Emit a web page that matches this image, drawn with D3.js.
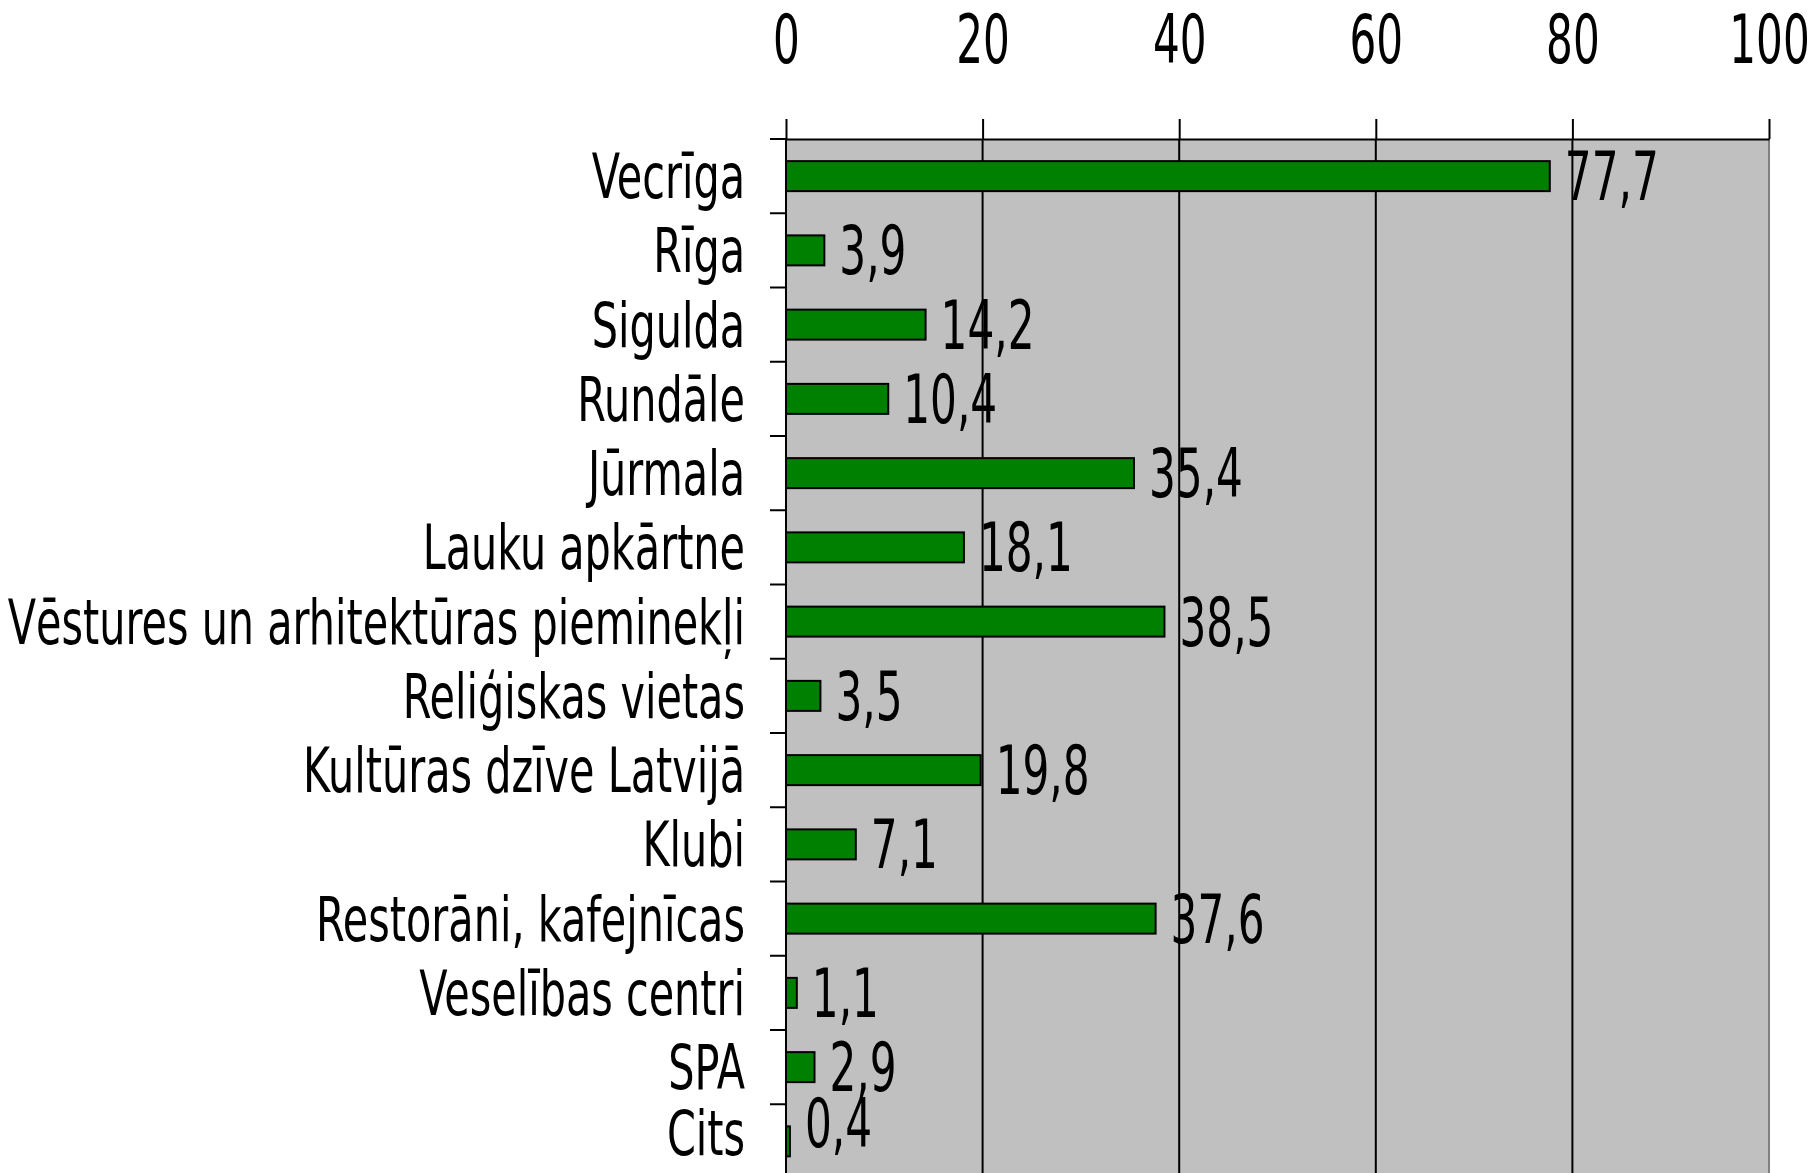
<!DOCTYPE html>
<html>
<head>
<meta charset="utf-8">
<script src="https://cdn.jsdelivr.net/npm/d3@7"></script>
<style>
  body { margin: 0; background: #fff; }
  svg { display: block; }
  text { font-family: "DejaVu Sans", Verdana, sans-serif; fill: #000; }
</style>
</head>
<body>
<svg id="chart"></svg>
<script>
// categories (top to bottom) and their values, percent
const categories = [
  "Vecrīga",
  "Rīga",
  "Sigulda",
  "Rundāle",
  "Jūrmala",
  "Lauku apkārtne",
  "Vēstures un arhitektūras pieminekļi",
  "Reliģiskas vietas",
  "Kultūras dzīve Latvijā",
  "Klubi",
  "Restorāni, kafejnīcas",
  "Veselības centri",
  "SPA",
  "Cits"
];
const values = [77.7, 3.9, 14.2, 10.4, 35.4, 18.1, 38.5, 3.5, 19.8, 7.1, 37.6, 1.1, 2.9, 0.4];
const xTicks = [0, 20, 40, 60, 80, 100];

const width = 1814, height = 1173;
const plotLeft = 786, plotRight = 1769, plotTop = 139, step = 74.25;
// the original font is tall and narrow
const squeezeCat = 0.667, squeezeVal = 0.63, squeezeAxis = 0.62;

const svg = d3.select("#chart").attr("width", width).attr("height", height);

const x = d3.scaleLinear().domain([0, 100]).range([plotLeft, plotRight]);
const y = d3.scaleBand()
    .domain(categories)
    .range([plotTop, plotTop + step * categories.length])
    .paddingInner(0.596)
    .paddingOuter(0.298);

const plotBottom = plotTop + step * categories.length;
const fmt = d => d3.format(".1f")(d).replace(".", ",");
const mid = d => y(d) + y.bandwidth() / 2;

// plot area
svg.append("rect")
    .attr("x", plotLeft).attr("y", plotTop)
    .attr("width", plotRight - plotLeft).attr("height", plotBottom - plotTop)
    .attr("fill", "#c0c0c0");
svg.append("line")
    .attr("x1", plotRight).attr("x2", plotRight)
    .attr("y1", plotTop).attr("y2", plotBottom)
    .attr("stroke", "#808080").attr("stroke-width", 2);

// gridlines
svg.append("g")
  .selectAll("line")
  .data(xTicks.filter(d => d > 0 && d < 100))
  .enter().append("line")
    .attr("x1", d => x(d)).attr("x2", d => x(d))
    .attr("y1", plotTop).attr("y2", plotBottom)
    .attr("stroke", "#000").attr("stroke-width", 2);

// top axis
const xAxis = svg.append("g")
    .attr("transform", "translate(0," + plotTop + ")")
    .call(d3.axisTop(x).tickValues(xTicks).tickSize(20).tickSizeOuter(0));
xAxis.select(".domain").attr("stroke-width", 2);
xAxis.selectAll(".tick line").attr("stroke-width", 2);
xAxis.selectAll(".tick text")
    .attr("y", 0)
    .attr("dy", 0)
    .attr("font-size", 68)
    .attr("font-family", "DejaVu Sans")
    .attr("transform", "translate(0,-76) scale(" + squeezeAxis + ",1)");

// left axis line and ticks at band edges
svg.append("line")
    .attr("x1", plotLeft).attr("x2", plotLeft)
    .attr("y1", plotTop).attr("y2", plotBottom)
    .attr("stroke", "#000").attr("stroke-width", 2);
svg.append("g")
  .selectAll("line")
  .data(d3.range(categories.length + 1))
  .enter().append("line")
    .attr("x1", plotLeft - 16).attr("x2", plotLeft)
    .attr("y1", i => plotTop + i * step).attr("y2", i => plotTop + i * step)
    .attr("stroke", "#000").attr("stroke-width", 2);

// category labels (the last row is pushed up to stay inside the picture)
svg.append("g")
  .selectAll("text")
  .data(categories)
  .enter().append("text")
    .attr("text-anchor", "end")
    .attr("font-size", 62)
    .attr("transform", d => "translate(745," + Math.min(mid(d) + 22, height - 18) + ") scale(" + squeezeCat + ",1)")
    .text(d => d);

// bars
svg.append("g")
  .selectAll("rect")
  .data(values)
  .enter().append("rect")
    .attr("x", x(0))
    .attr("y", (d, i) => y(categories[i]))
    .attr("width", d => x(d) - x(0))
    .attr("height", y.bandwidth())
    .attr("fill", "#008000")
    .attr("stroke", "#000")
    .attr("stroke-width", 2);

// value labels
svg.append("g")
  .selectAll("text")
  .data(values)
  .enter().append("text")
    .attr("font-size", 67)
    .attr("transform", (d, i) => "translate(" + (x(d) + 15) + "," + Math.min(mid(categories[i]) + 24, height - 26) + ") scale(" + squeezeVal + ",1)")
    .text(d => fmt(d));
</script>
</body>
</html>
